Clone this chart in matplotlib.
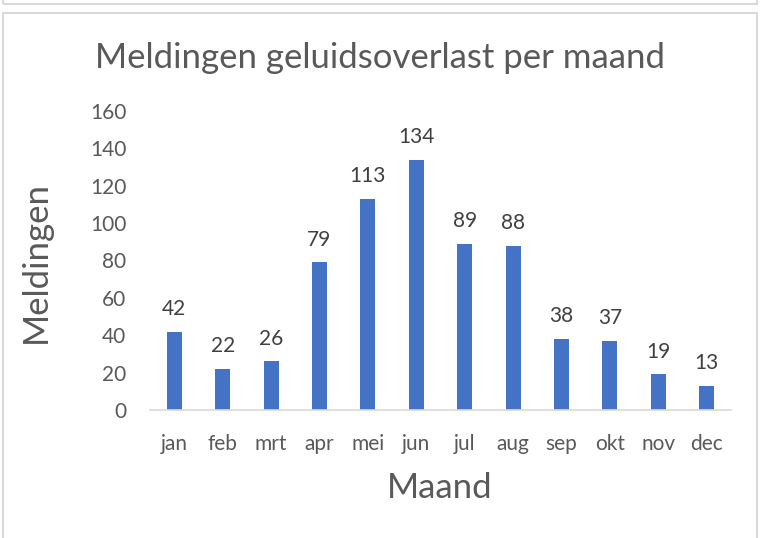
import matplotlib.pyplot as plt
from matplotlib.patches import Rectangle

# data
maanden = ['jan', 'feb', 'mrt', 'apr', 'mei', 'jun', 'jul', 'aug', 'sep', 'okt', 'nov', 'dec']
meldingen = [42, 22, 26, 79, 113, 134, 89, 88, 38, 37, 19, 13]

plt.rcParams['font.family'] = ['Lato', 'DejaVu Sans']
grijs = '#595959'
lijn = '#d9d9d9'

fig = plt.figure(figsize=(7.62, 5.38), dpi=100)
W, H = 762, 538

# kaders van de screenshot
fig.patches.append(Rectangle((3 / W, 1 - 4 / H), 754 / W, 10 / H, transform=fig.transFigure,
                             fill=False, edgecolor=lijn, linewidth=1.5))
fig.patches.append(Rectangle((3 / W, -0.05), 754 / W, 1 - 13 / H + 0.05, transform=fig.transFigure,
                             fill=False, edgecolor=lijn, linewidth=1.5))

ax = fig.add_axes([150 / W, 1 - 410 / H, 581 / W, 299 / H])
x = range(len(maanden))
bars = ax.bar(x, meldingen, width=0.31, color='#4472C4')
ax.bar_label(bars, padding=9, fontsize=15, color='#404040')

ax.set_xlim(-0.5, len(maanden) - 0.5)
ax.set_ylim(0, 160)
ax.set_yticks(range(0, 161, 20))
ax.set_xticks(list(x))
ax.set_xticklabels(maanden)
ax.tick_params(axis='both', length=0, labelsize=15, colors=grijs)
ax.tick_params(axis='x', pad=17)
ax.tick_params(axis='y', pad=17)

for s in ['top', 'right', 'left']:
    ax.spines[s].set_visible(False)
ax.spines['bottom'].set_color(lijn)
ax.spines['bottom'].set_linewidth(1.2)

fig.text(380 / W, 1 - 58 / H, 'Meldingen geluidsoverlast per maand', fontsize=25,
         color=grijs, ha='center', va='center')
fig.text(440 / W, 1 - 488 / H, 'Maand', fontsize=25, color=grijs, ha='center', va='center')
fig.text(36 / W, 1 - 262 / H, 'Meldingen', fontsize=25, color=grijs, ha='center', va='center',
         rotation=90)

fig.savefig('out.png', dpi=100)
